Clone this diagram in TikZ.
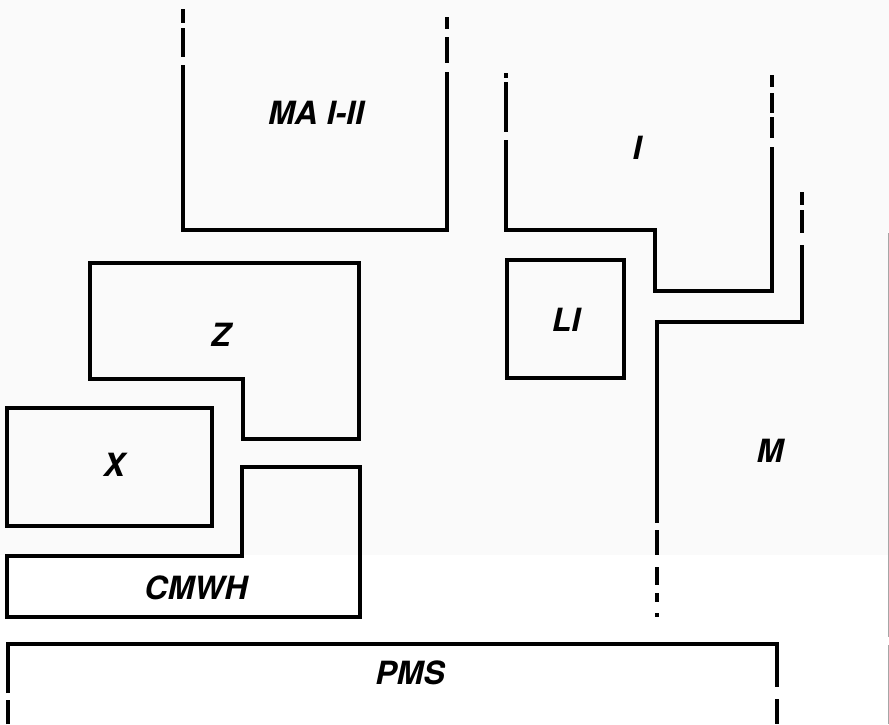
\documentclass[tikz,border=0pt]{standalone}
\usepackage{fontspec}
\setmainfont{TeX Gyre Heros}
\begin{document}
\begin{tikzpicture}[x=1pt,y=-1pt,
  wall/.style={line width=3.2pt,line cap=butt,line join=miter},
  lbl/.style={font=\fontsize{32}{35}\selectfont\bfseries\itshape,inner sep=0pt}]
\useasboundingbox (0,0) rectangle (889,724);
\fill[black!2] (0,0) rectangle (889,555);
\draw[black!35,line width=1pt] (888,233) -- (888,637) (888,645) -- (888,724);
% MA I-II
\draw[wall] (183,9) -- (183,23) (183,28) -- (183,57) (183,65) -- (183,230) -- (447,230) -- (447,72)
  (447,37) -- (447,63) (447,17) -- (447,29);
\node[lbl] (ma) at (316,113) {MA I-II};
% I
\draw[wall] (506,73) -- (506,78) (506,82) -- (506,132) (506,140) -- (506,230) -- (655,230) -- (655,291) -- (772,291) -- (772,147)
  (772,117) -- (772,138) (772,93) -- (772,113) (772,75) -- (772,87);
\node[lbl] (i) at (637,148) {I};
% M
\draw[wall] (802,192) -- (802,205) (802,210) -- (802,233) (802,245) -- (802,322) -- (657,322) -- (657,523)
  (657,530) -- (657,555) (657,567) -- (657,585) (657,593) -- (657,602) (657,613) -- (657,617);
\node[lbl] (m) at (770,451) {M};
% LI
\draw[wall] (507,260) rectangle (624,378);
\node[lbl] (li) at (566,320) {LI};
% Z
\draw[wall] (90,263) -- (359,263) -- (359,439) -- (243,439) -- (243,379) -- (90,379) -- cycle;
\node[lbl] (z) at (221,335) {Z};
% X
\draw[wall] (7,408) rectangle (212,526);
\node[lbl] (x) at (114,465) {X};
% CMWH
\draw[wall] (7,556) -- (242,556) -- (242,467) -- (360,467) -- (360,617) -- (7,617) -- cycle;
\node[lbl] (cmwh) at (196,588) {CMWH};
% PMS
\draw[wall] (8,724) -- (8,700) (8,693) -- (8,644) -- (777,644) -- (777,687) (777,699) -- (777,724);
\node[lbl] (pms) at (410,673) {PMS};
\end{tikzpicture}
\end{document}
